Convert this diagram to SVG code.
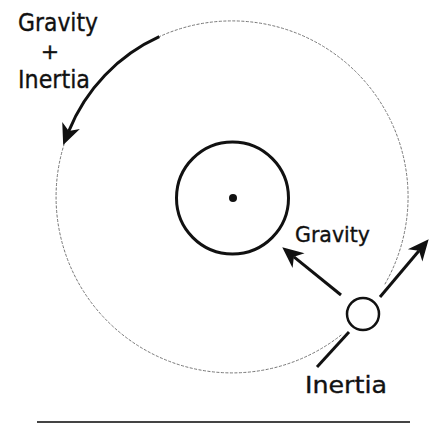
<svg xmlns="http://www.w3.org/2000/svg" width="434" height="425" viewBox="0 0 434 425">
<style>
.lbl{font-family:"DejaVu Sans","Liberation Sans",sans-serif;fill:#111;stroke:#111;stroke-width:0.35}
.thick{fill:none;stroke:#111;stroke-width:3}
.orbit{fill:none;stroke:#777;stroke-width:1;stroke-dasharray:3 1.5}
</style>
<defs>
<marker id="ah" markerUnits="userSpaceOnUse" markerWidth="30" markerHeight="30" viewBox="-10 -15 30 30" refX="0" refY="0" orient="auto">
<path d="M15,0 L-6,-9.5 L0,0 L-6,9.5 Z" fill="#111"/>
</marker>
</defs>
<g id="orbit">
<path class="orbit" d="M341.3,334.9 A176,176 0 1 1 384.6,284.7"/>
</g>
<g id="planet">
<circle cx="232.5" cy="198" r="56" fill="none" stroke="#111" stroke-width="3"/>
<circle cx="233" cy="198" r="4" fill="#111"/>
</g>
<g id="satellite">
<circle cx="363" cy="314" r="16" fill="#fff" stroke="#111" stroke-width="2.5"/>
</g>
<g id="connectors">
<path class="thick" d="M159.3,36.7 A176,176 0 0 0 68.8,131.1" marker-end="url(#ah)"/>
<line class="thick" x1="341" y1="295" x2="293.9" y2="256.8" marker-end="url(#ah)"/>
<line class="thick" x1="380" y1="297" x2="419" y2="250.7" marker-end="url(#ah)"/>
<line class="thick" x1="349" y1="332" x2="317" y2="367"/>
</g>
<g id="labels">
<text class="lbl" x="18" y="31" font-size="24" textLength="80" lengthAdjust="spacingAndGlyphs">Gravity</text>
<text class="lbl" x="50" y="59" font-size="22" text-anchor="middle">+</text>
<text class="lbl" x="18" y="88" font-size="24" textLength="72" lengthAdjust="spacingAndGlyphs">Inertia</text>
<text class="lbl" x="295" y="242" font-size="21" textLength="75" lengthAdjust="spacingAndGlyphs">Gravity</text>
<text class="lbl" x="305" y="393" font-size="23" textLength="82" lengthAdjust="spacingAndGlyphs">Inertia</text>
</g>
<line x1="37" y1="422" x2="410" y2="422" stroke="#444" stroke-width="1.8"/>
</svg>
